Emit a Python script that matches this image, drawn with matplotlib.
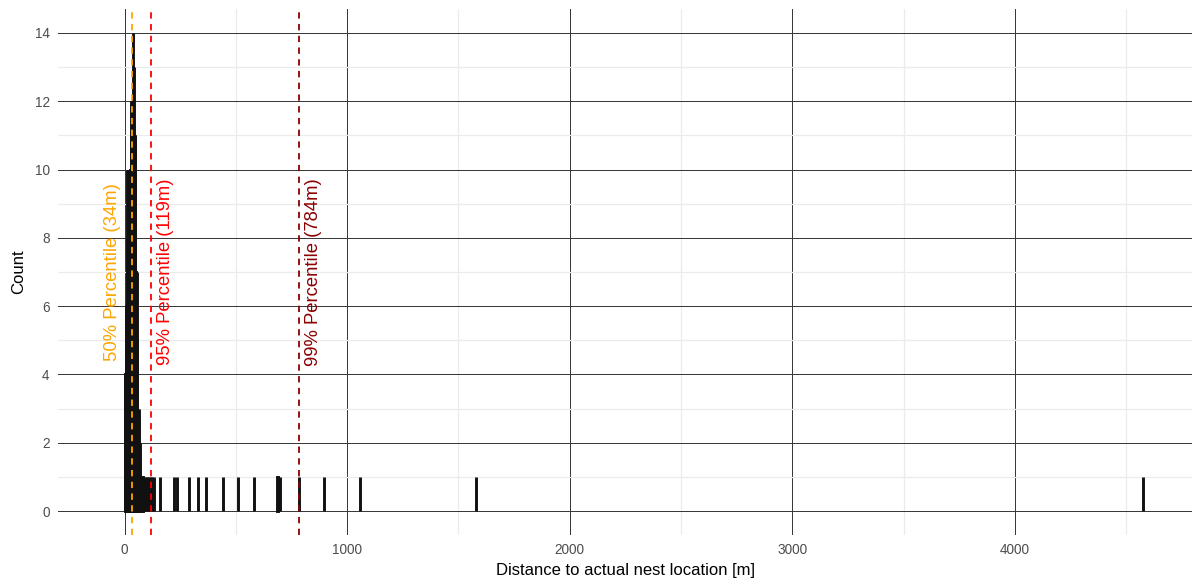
#!/usr/bin/env python3
"""Histogram of distances between estimated and actual nest locations."""
import matplotlib

matplotlib.use("Agg")
import matplotlib.pyplot as plt
import numpy as np

plt.rcParams["font.family"] = ["Liberation Sans", "DejaVu Sans"]

# counts per 1 m bin, 0-69 m (dense part, read as envelope)
near_counts = [4, 2, 3, 1, 4, 3, 5, 4, 6, 10,
               7, 5, 8, 6, 9, 10, 4, 7, 6, 8,
               5, 10, 7, 9, 6, 8, 10, 12, 9, 11,
               7, 10, 12, 8, 11, 9, 12, 10, 8, 14,
               11, 13, 9, 10, 8, 11, 7, 11, 5, 7,
               4, 6, 3, 5, 4, 7, 2, 3, 1, 2,
               3, 1, 2, 3, 1, 2, 0, 1, 2, 0]
# single observations further out (m)
tail_m = [74, 80, 86, 92, 99, 105, 111, 118, 124, 131,
          157, 222, 236, 290, 331, 365, 440, 510, 582, 687,
          699, 783, 894, 1057, 1578, 4575]
tail_counts = [1] * len(tail_m)

pct_labels = ["50%", "95%", "99%"]
pct_values = [34, 119, 784]
pct_colors = ["#FFA500", "#FF0000", "#8B0000"]
pct_offsets = [-20, 14, 14]  # pixel offset of label from line

fig = plt.figure(figsize=(11.92, 5.81), dpi=100)
ax = fig.add_axes([58 / 1192, 1 - 535 / 581, 1 - 58 / 1192, (535 - 9) / 581])

bar_kw = dict(width=1, align="edge", color="black", edgecolor="#111111",
              linewidth=2.1, zorder=3)
ax.bar(np.arange(len(near_counts)), near_counts, **bar_kw)
ax.bar(tail_m, tail_counts, **bar_kw)

for lab, val, col, off in zip(pct_labels, pct_values, pct_colors, pct_offsets):
    ax.axvline(val, color=col, linestyle=(0, (3.5, 3)), linewidth=1.3, zorder=4)
    ax.annotate(f"{lab} Percentile ({val}m)", xy=(val, 7), xytext=(off, 0),
                textcoords="offset pixels", rotation=90, color=col,
                fontsize=13.3, ha="center", va="center", zorder=5)

ax.set_xlim(-299, 4795)
ax.set_ylim(-0.7, 14.7)
ax.set_xticks([0, 1000, 2000, 3000, 4000])
ax.set_xticks([500, 1500, 2500, 3500, 4500], minor=True)
ax.set_yticks(range(0, 15, 2))
ax.set_yticks(range(1, 15, 2), minor=True)
ax.grid(True, which="major", color="#333333", linewidth=0.7, zorder=0)
ax.grid(True, which="minor", color="#EBEBEB", linewidth=0.9, zorder=0)
ax.set_axisbelow(True)
for s in ax.spines.values():
    s.set_visible(False)
ax.tick_params(which="both", length=0, labelsize=9.8, labelcolor="#4D4D4D")
ax.tick_params(axis="y", pad=6)
ax.tick_params(axis="x", pad=6)
ax.set_xlabel("Distance to actual nest location [m]", fontsize=12, labelpad=4)
ax.set_ylabel("Count", fontsize=12, labelpad=6)

fig.savefig("out.png", dpi=100)
